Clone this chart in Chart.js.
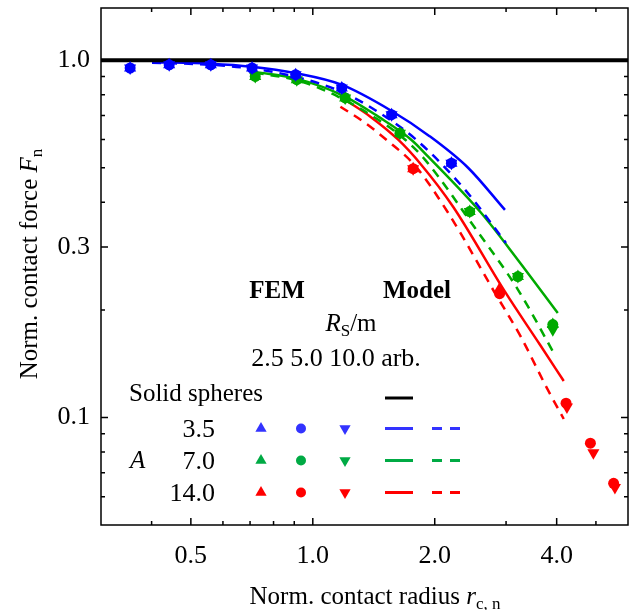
<!DOCTYPE html>
<html>
<head>
<meta charset="utf-8">
<script src="https://cdn.jsdelivr.net/npm/chart.js@4.4.0/dist/chart.umd.min.js"></script>
<style>
  body { margin: 0; background: #fff; }
  #wrap { width: 635px; height: 610px; }
</style>
</head>
<body>
<div id="wrap"><canvas id="canvas" width="635" height="610"></canvas></div>
<script>
// FEM results, A = 3.5 (same for all three sphere radii)
let fem35X = [0.354, 0.442, 0.560, 0.708, 0.907, 1.179, 1.565, 2.199];
let fem35Y = [0.951, 0.971, 0.971, 0.951, 0.911, 0.836, 0.704, 0.515];

// FEM results, A = 7.0
let fem70X = [0.721, 0.913, 1.202, 1.641, 2.440, 3.209, 3.913];
let fem70Y = [0.901, 0.882, 0.784, 0.625, 0.377, 0.248, 0.182];
let fem70DownY = [0.901, 0.882, 0.784, 0.625, 0.377, 0.248, 0.176];

// FEM results, A = 14.0, one list per sphere radius
let fem14UpX = [1.769, 2.892];
let fem14UpY = [0.497, 0.229];
let fem14CircX = [1.769, 2.892, 4.219, 4.845, 5.529];
let fem14CircY = [0.497, 0.222, 0.1096, 0.0847, 0.0654];
let fem14DownX = [1.769, 4.240, 4.928, 5.570];
let fem14DownY = [0.497, 0.107, 0.0797, 0.0637];

// model curves: solid = arbitrary radius, dashed = finite radius
let solidX = [0.3, 6.0];
let solidY = [1.0, 1.0];

let m35X = [0.401, 0.560, 0.707, 0.907, 1.177, 1.562, 1.938, 2.417, 2.981];
let m35Y = [0.987, 0.978, 0.959, 0.920, 0.854, 0.722, 0.614, 0.500, 0.381];
let m35dX = [0.401, 0.560, 0.707, 0.907, 1.177, 1.395, 1.800, 2.376, 2.998];
let m35dY = [0.984, 0.971, 0.947, 0.899, 0.816, 0.736, 0.599, 0.434, 0.308];

let m70X = [0.715, 0.912, 1.204, 1.451, 1.750, 1.927, 2.602, 3.209, 4.025];
let m70Y = [0.929, 0.888, 0.790, 0.695, 0.599, 0.537, 0.374, 0.276, 0.196];
let m70dX = [0.719, 0.922, 1.157, 1.451, 1.691, 1.894, 2.515, 3.209, 3.980];
let m70dY = [0.923, 0.876, 0.790, 0.681, 0.599, 0.526, 0.339, 0.228, 0.148];

let m14X = [1.190, 1.387, 1.625, 1.852, 2.220, 2.981, 3.635, 4.164];
let m14Y = [0.780, 0.695, 0.599, 0.510, 0.389, 0.225, 0.160, 0.1265];
let m14dX = [1.170, 1.333, 1.519, 1.790, 2.158, 2.817, 3.264, 3.782, 4.164];
let m14dY = [0.741, 0.673, 0.599, 0.506, 0.374, 0.223, 0.168, 0.121, 0.099];

// axis ticks
let xMajor = [0.5, 1, 2, 4];
let xMajorLabels = ['0.5', '1.0', '2.0', '4.0'];
let xMinor = [0.4, 0.6, 0.7, 0.8, 0.9, 3, 5];
let yMajor = [0.1, 0.3, 1.0];
let yMajorLabels = ['0.1', '0.3', '1.0'];
let yMinor = [0.06, 0.07, 0.08, 0.09, 0.2, 0.4, 0.5, 0.6, 0.7, 0.8, 0.9];

const BLUE = '#0000ff', GREEN = '#00aa00', RED = '#ff0000';
const SERIF = '"Liberation Serif", "Times New Roman", serif';

function pts(xs, ys) {
  return xs.map((v, i) => ({ x: v, y: ys[i] }));
}

function femSet(xs, ys, color, style, rot) {
  return {
    data: pts(xs, ys),
    showLine: false,
    pointStyle: style,
    pointRotation: rot,
    pointRadius: style === 'circle' ? 5.5 : 7,
    pointBackgroundColor: color,
    pointBorderColor: color,
    pointBorderWidth: 0
  };
}

function modelSet(xs, ys, color, dash, width) {
  return {
    data: pts(xs, ys),
    showLine: true,
    borderColor: color,
    borderWidth: width || 2.5,
    borderDash: dash,
    pointRadius: 0,
    cubicInterpolationMode: 'monotone',
    fill: false
  };
}

// draws text made of several runs (italic, subscript...)
function richText(ctx, parts, x, y, align) {
  let w = 0;
  for (const p of parts) { ctx.font = p.font; w += ctx.measureText(p.text).width; }
  let cx = align === 'center' ? x - w / 2 : align === 'right' ? x - w : x;
  ctx.textAlign = 'left';
  ctx.textBaseline = 'alphabetic';
  for (const p of parts) {
    ctx.font = p.font;
    ctx.fillText(p.text, cx, y + (p.dy || 0));
    cx += ctx.measureText(p.text).width;
  }
}

function triangle(ctx, x, y, r, down) {
  const s = down ? -1 : 1;
  ctx.beginPath();
  ctx.moveTo(x, y - s * r);
  ctx.lineTo(x + r * 0.866, y + s * r * 0.5);
  ctx.lineTo(x - r * 0.866, y + s * r * 0.5);
  ctx.closePath();
  ctx.fill();
}

const reg = '25px ' + SERIF;
const num = '26px ' + SERIF;
const ita = 'italic 25px ' + SERIF;
const sub = '17px ' + SERIF;
const bold = 'bold 25px ' + SERIF;

// frame, inward ticks, labels and the key
const frame = {
  id: 'frame',
  afterDatasetsDraw(chart) {
    const { ctx, chartArea: a, scales: { x, y } } = chart;
    ctx.save();
    ctx.strokeStyle = '#000';
    ctx.lineWidth = 1.5;
    ctx.strokeRect(a.left, a.top, a.right - a.left, a.bottom - a.top);

    ctx.beginPath();
    xMajor.concat(xMinor).forEach(v => {
      const len = xMajor.includes(v) ? 7 : 4;
      const px = x.getPixelForValue(v);
      ctx.moveTo(px, a.bottom); ctx.lineTo(px, a.bottom - len);
      ctx.moveTo(px, a.top); ctx.lineTo(px, a.top + len);
    });
    yMajor.concat(yMinor).forEach(v => {
      const len = yMajor.includes(v) ? 7 : 4;
      const py = y.getPixelForValue(v);
      ctx.moveTo(a.left, py); ctx.lineTo(a.left + len, py);
      ctx.moveTo(a.right, py); ctx.lineTo(a.right - len, py);
    });
    ctx.stroke();

    ctx.fillStyle = '#000';
    ctx.font = num;
    ctx.textBaseline = 'middle';
    ctx.textAlign = 'center';
    xMajor.forEach((v, i) => ctx.fillText(xMajorLabels[i], x.getPixelForValue(v), 556));
    ctx.textAlign = 'right';
    yMajor.forEach((v, i) => ctx.fillText(yMajorLabels[i], 90, y.getPixelForValue(v)));

    // axis titles
    richText(ctx, [
      { text: 'Norm. contact radius ', font: reg },
      { text: 'r', font: ita },
      { text: 'c, n', font: sub, dy: 5 }
    ], 375, 604, 'center');

    ctx.save();
    ctx.translate(37, 264);
    ctx.rotate(-Math.PI / 2);
    richText(ctx, [
      { text: 'Norm. contact force ', font: reg },
      { text: 'F', font: ita },
      { text: 'n', font: sub, dy: 5 }
    ], 0, 0, 'center');
    ctx.restore();

    // key
    richText(ctx, [{ text: 'FEM', font: bold }], 277, 298, 'center');
    richText(ctx, [{ text: 'Model', font: bold }], 417, 298, 'center');
    richText(ctx, [
      { text: 'R', font: ita },
      { text: 'S', font: sub, dy: 5 },
      { text: '/m', font: reg }
    ], 351, 331, 'center');
    richText(ctx, [{ text: '2.5 5.0 10.0 arb.', font: num }], 336, 366, 'center');
    richText(ctx, [{ text: 'Solid spheres', font: reg }], 129, 401, 'left');
    richText(ctx, [{ text: 'A', font: ita }], 130, 468, 'left');

    ctx.lineWidth = 3;
    ctx.strokeStyle = '#000';
    ctx.beginPath(); ctx.moveTo(385, 398); ctx.lineTo(413, 398); ctx.stroke();

    const rows = [
      { label: '3.5', color: '#3333ff', y: 428.5 },
      { label: '7.0', color: '#00aa44', y: 460.5 },
      { label: '14.0', color: '#ff0000', y: 492.5 }
    ];
    rows.forEach(r => {
      ctx.fillStyle = '#000';
      richText(ctx, [{ text: r.label, font: num }], 215, r.y + 8, 'right');
      ctx.fillStyle = r.color;
      triangle(ctx, 261, r.y, 6.5, false);
      ctx.beginPath(); ctx.arc(301, r.y, 5, 0, Math.PI * 2); ctx.fill();
      triangle(ctx, 345, r.y, 6.5, true);
      ctx.strokeStyle = r.color;
      ctx.lineWidth = 3;
      ctx.beginPath(); ctx.moveTo(385, r.y); ctx.lineTo(413, r.y); ctx.stroke();
      ctx.beginPath();
      ctx.moveTo(432, r.y); ctx.lineTo(442, r.y);
      ctx.moveTo(450, r.y); ctx.lineTo(460, r.y);
      ctx.stroke();
    });
    ctx.restore();
  }
};

let options = {
  type: 'scatter',
  data: {
    datasets: [
      femSet(fem35X, fem35Y, BLUE, 'triangle', 0),
      femSet(fem35X, fem35Y, BLUE, 'circle', 0),
      femSet(fem35X, fem35Y, BLUE, 'triangle', 180),
      femSet(fem70X, fem70Y, GREEN, 'triangle', 0),
      femSet(fem70X, fem70Y, GREEN, 'circle', 0),
      femSet(fem70X, fem70DownY, GREEN, 'triangle', 180),
      femSet(fem14UpX, fem14UpY, RED, 'triangle', 0),
      femSet(fem14CircX, fem14CircY, RED, 'circle', 0),
      femSet(fem14DownX, fem14DownY, RED, 'triangle', 180),
      modelSet(solidX, solidY, '#000', [], 4),
      modelSet(m35X, m35Y, BLUE, []),
      modelSet(m35dX, m35dY, BLUE, [9, 7]),
      modelSet(m70X, m70Y, GREEN, []),
      modelSet(m70dX, m70dY, GREEN, [9, 7]),
      modelSet(m14X, m14Y, RED, []),
      modelSet(m14dX, m14dY, RED, [9, 7])
    ]
  },
  options: {
    responsive: false,
    animation: false,
    layout: { padding: { left: 101, right: 4, top: 8, bottom: 85 } },
    plugins: { legend: { display: false }, tooltip: { enabled: false } },
    scales: {
      x: { type: 'logarithmic', min: 0.3, max: 6.0, display: false },
      y: { type: 'logarithmic', min: 0.05, max: 1.4, display: false }
    }
  },
  plugins: [frame]
};

let chart = new Chart(document.getElementById('canvas'), options);
</script>
</body>
</html>
